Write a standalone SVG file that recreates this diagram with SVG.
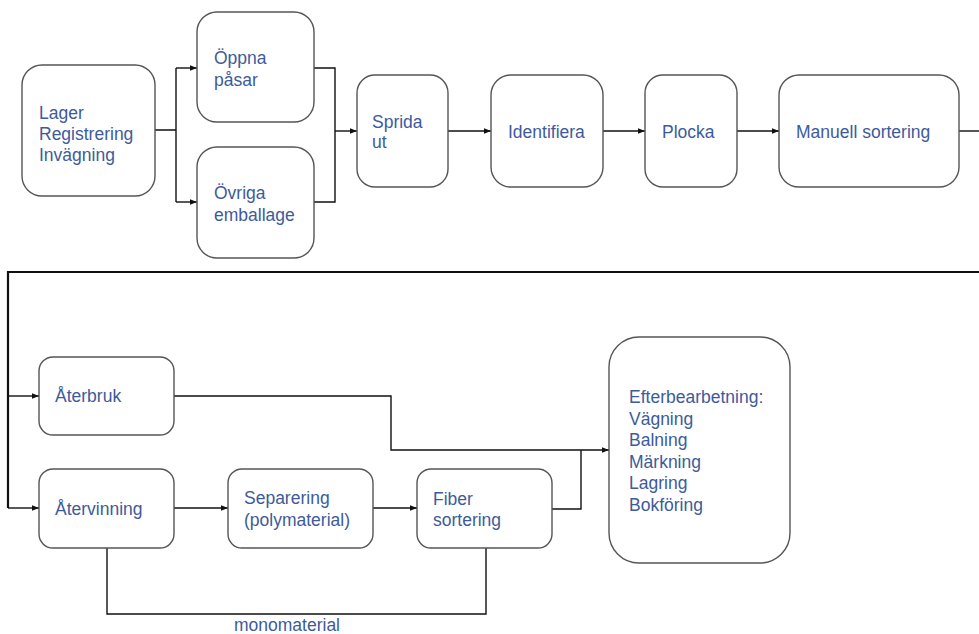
<svg xmlns="http://www.w3.org/2000/svg" width="979" height="634" viewBox="0 0 979 634">
<style>
.box{fill:#fff;stroke:#555;stroke-width:1.4}
.t{font-family:"Liberation Sans",Arial,sans-serif;font-size:17.5px;fill:#3d5b9b}
.c{fill:none;stroke:#111;stroke-width:1.4}
.thick{stroke-width:2.2}
</style>
<defs>
<marker id="arr" viewBox="0 0 10 10" refX="10" refY="5" markerWidth="7" markerHeight="7" markerUnits="userSpaceOnUse" orient="auto">
<path d="M0,1 L10,5 L0,9 Z" fill="#111"/>
</marker>
</defs>
<rect width="979" height="634" fill="#fff"/>
<g id="connectors">
<path class="c" d="M155,130 H176 M176,68 V202"/>
<path class="c" d="M176,68 H197" marker-end="url(#arr)"/>
<path class="c" d="M176,202 H197" marker-end="url(#arr)"/>
<path class="c" d="M314,68 H335 V202 H314"/>
<path class="c" d="M335,131 H357" marker-end="url(#arr)"/>
<path class="c" d="M448,131 H491" marker-end="url(#arr)"/>
<path class="c" d="M603,131 H645" marker-end="url(#arr)"/>
<path class="c" d="M737,131 H779" marker-end="url(#arr)"/>
<path class="c" d="M959,131 H979"/>
<path class="c thick" d="M979,272 H8 V508"/>
<path class="c" d="M8,396 H39" marker-end="url(#arr)"/>
<path class="c" d="M8,508 H39" marker-end="url(#arr)"/>
<path class="c" d="M174,508 H228" marker-end="url(#arr)"/>
<path class="c" d="M373,508 H417" marker-end="url(#arr)"/>
<path class="c" d="M174,396 H391 V450 H609" marker-end="url(#arr)"/>
<path class="c" d="M552,509 H581 V450"/>
<path class="c" d="M107,548 V614 H486 V548"/>
<text class="t" x="287" y="631" text-anchor="middle">monomaterial</text>
</g>
<g id="lager">
<rect class="box" x="22" y="65" width="133" height="131" rx="20"/>
<text class="t" x="39" y="119">Lager</text>
<text class="t" x="39" y="140">Registrering</text>
<text class="t" x="39" y="161">Invägning</text>
</g>
<g id="oppna">
<rect class="box" x="197" y="12" width="117" height="110" rx="20"/>
<text class="t" x="214" y="64">Öppna</text>
<text class="t" x="214" y="86">påsar</text>
</g>
<g id="ovriga">
<rect class="box" x="197" y="147" width="117" height="111" rx="20"/>
<text class="t" x="214" y="199">Övriga</text>
<text class="t" x="214" y="221">emballage</text>
</g>
<g id="sprida">
<rect class="box" x="357" y="75" width="91" height="112" rx="18"/>
<text class="t" x="372" y="128">Sprida</text>
<text class="t" x="372" y="148">ut</text>
</g>
<g id="identifiera">
<rect class="box" x="491" y="75" width="112" height="112" rx="20"/>
<text class="t" x="508" y="138">Identifiera</text>
</g>
<g id="plocka">
<rect class="box" x="645" y="75" width="92" height="112" rx="18"/>
<text class="t" x="662" y="138">Plocka</text>
</g>
<g id="manuell">
<rect class="box" x="779" y="75" width="180" height="112" rx="20"/>
<text class="t" x="796" y="138">Manuell sortering</text>
</g>
<g id="aterbruk">
<rect class="box" x="39" y="357" width="135" height="78" rx="14"/>
<text class="t" x="55" y="402">Återbruk</text>
</g>
<g id="atervinning">
<rect class="box" x="39" y="469" width="135" height="79" rx="14"/>
<text class="t" x="55" y="515">Återvinning</text>
</g>
<g id="separering">
<rect class="box" x="228" y="469" width="145" height="79" rx="14"/>
<text class="t" x="244" y="504">Separering</text>
<text class="t" x="244" y="526">(polymaterial)</text>
</g>
<g id="fiber">
<rect class="box" x="417" y="469" width="135" height="79" rx="14"/>
<text class="t" x="433" y="505">Fiber</text>
<text class="t" x="433" y="526">sortering</text>
</g>
<g id="efterbearbetning">
<rect class="box" x="609" y="337" width="181" height="226" rx="30"/>
<text class="t" x="629" y="403">Efterbearbetning:</text>
<text class="t" x="629" y="425">Vägning</text>
<text class="t" x="629" y="446">Balning</text>
<text class="t" x="629" y="468">Märkning</text>
<text class="t" x="629" y="489">Lagring</text>
<text class="t" x="629" y="511">Bokföring</text>
</g>
</svg>
